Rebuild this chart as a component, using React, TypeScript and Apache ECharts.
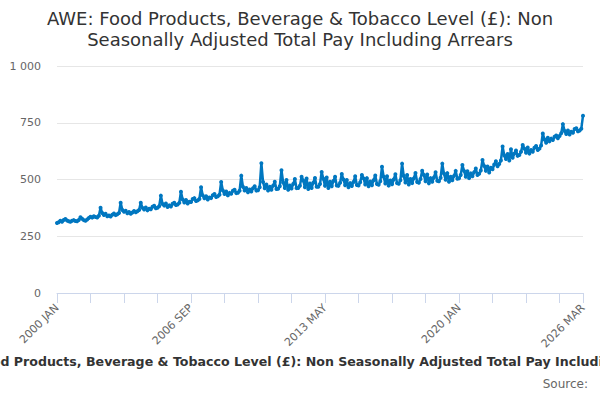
import React, { useEffect, useRef } from "react";
import * as echarts from "echarts";

const TITLE =
  "AWE: Food Products, Beverage & Tobacco Level (£): Non Seasonally Adjusted Total Pay Including Arrears";
const MONTHS = ["JAN", "FEB", "MAR", "APR", "MAY", "JUN", "JUL", "AUG", "SEP", "OCT", "NOV", "DEC"];
const START_YEAR = 2000;

const y2000 = [308, 312, 318, 314, 322, 326, 319, 316, 314, 318, 321, 317];
const y2001 = [316, 322, 334, 327, 321, 318, 324, 330, 336, 332, 338, 335];
const y2002 = [333, 340, 376, 352, 344, 349, 338, 341, 337, 345, 350, 343];
const y2003 = [347, 352, 398, 366, 358, 362, 351, 357, 349, 355, 361, 356];
const y2004 = [360, 366, 398, 375, 368, 377, 364, 371, 369, 380, 384, 373];
const y2005 = [376, 382, 429, 392, 385, 394, 379, 386, 381, 393, 398, 388];
const y2006 = [390, 397, 446, 412, 399, 410, 394, 402, 401, 414, 418, 405];
const y2007 = [408, 414, 466, 430, 417, 426, 412, 421, 418, 431, 436, 423];
const y2008 = [426, 433, 489, 452, 436, 447, 430, 441, 437, 450, 455, 440];
const y2009 = [442, 450, 517, 468, 452, 463, 444, 456, 447, 461, 470, 451];
const y2010 = [453, 466, 572, 489, 461, 478, 452, 468, 455, 473, 490, 458];
const y2011 = [459, 470, 541, 487, 463, 498, 455, 474, 460, 480, 502, 462];
const y2012 = [463, 472, 512, 496, 466, 504, 458, 482, 463, 486, 507, 468];
const y2013 = [468, 480, 533, 503, 472, 509, 463, 490, 470, 493, 512, 474];
const y2014 = [472, 486, 524, 500, 475, 498, 466, 484, 471, 489, 514, 476];
const y2015 = [474, 488, 520, 505, 478, 506, 470, 491, 475, 497, 518, 480];
const y2016 = [477, 492, 556, 512, 482, 514, 473, 496, 479, 500, 523, 484];
const y2017 = [481, 497, 570, 515, 487, 520, 478, 502, 484, 505, 529, 489];
const y2018 = [486, 502, 539, 520, 492, 522, 483, 506, 490, 509, 532, 494];
const y2019 = [492, 508, 570, 526, 499, 528, 490, 512, 497, 516, 538, 503];
const y2020 = [505, 520, 564, 538, 512, 536, 506, 527, 514, 532, 548, 520];
const y2021 = [525, 540, 586, 560, 538, 557, 531, 552, 545, 566, 580, 558];
const y2022 = [568, 584, 645, 606, 590, 612, 584, 633, 596, 614, 628, 604];
const y2023 = [608, 622, 652, 636, 618, 641, 614, 630, 622, 640, 648, 630];
const y2024 = [636, 650, 703, 676, 662, 684, 668, 680, 674, 688, 694, 682];
const y2025 = [692, 704, 744, 714, 700, 716, 698, 710, 706, 722, 726, 712];
const y2026 = [716, 724, 781];

const YEARS = [
  y2000, y2001, y2002, y2003, y2004, y2005, y2006, y2007, y2008, y2009,
  y2010, y2011, y2012, y2013, y2014, y2015, y2016, y2017, y2018, y2019,
  y2020, y2021, y2022, y2023, y2024, y2025, y2026,
];

const Y_TICKS = [0, 250, 500, 750, 1000];

export default function App() {
  const ref = useRef<HTMLDivElement>(null);

  useEffect(() => {
    document.body.style.margin = "0";
    if (!ref.current) return;
    const chart = echarts.init(ref.current, null, { renderer: "svg" });

    const categories: string[] = [];
    const values: number[] = [];
    YEARS.forEach((arr, yi) => {
      arr.forEach((v, mi) => {
        categories.push(`${START_YEAR + yi} ${MONTHS[mi]}`);
        values.push(v);
      });
    });
    const last = categories.length - 1;
    const font = "DejaVu Sans";

    chart.setOption({
      animation: false,
      textStyle: { fontFamily: font },
      title: {
        text: "AWE: Food Products, Beverage & Tobacco Level (£): Non\nSeasonally Adjusted Total Pay Including Arrears",
        left: "center",
        top: 3,
        textStyle: {
          fontFamily: font,
          fontSize: 18,
          fontWeight: "normal",
          color: "#333333",
          lineHeight: 21,
        },
      },
      grid: { left: 57, right: 17, top: 66, bottom: 107, containLabel: false },
      xAxis: {
        type: "category",
        data: categories,
        boundaryGap: false,
        axisLine: { lineStyle: { color: "#ccd6eb" } },
        axisTick: {
          show: true,
          length: 10,
          interval: (i: number) => i % 20 === 0 || i === last,
          lineStyle: { color: "#ccd6eb" },
        },
        axisLabel: {
          rotate: 45,
          interval: (i: number) => i % 80 === 0 || i === last,
          color: "#666666",
          fontSize: 11,
          fontFamily: font,
          margin: 13,
        },
        splitLine: { show: false },
      },
      yAxis: {
        type: "value",
        min: Y_TICKS[0],
        max: Y_TICKS[Y_TICKS.length - 1],
        interval: 250,
        axisLine: { show: false },
        axisTick: { show: false },
        axisLabel: {
          color: "#666666",
          fontSize: 11,
          fontFamily: font,
          margin: 16,
          formatter: (v: number) => (v >= 1000 ? v.toLocaleString("en-US").replace(",", " ") : String(v)),
        },
        splitLine: { lineStyle: { color: "#e6e6e6" } },
      },
      series: [
        {
          type: "line",
          data: values,
          showSymbol: true,
          showAllSymbol: true,
          symbol: "circle",
          symbolSize: 4,
          itemStyle: { color: "#0077c0", borderWidth: 0 },
          lineStyle: { color: "#0077c0", width: 2.5 },
        },
      ],
      graphic: [
        {
          type: "text",
          x: 306,
          y: 355,
          style: {
            text: TITLE,
            fill: "#333333",
            font: `bold 12.6px "${font}"`,
            textAlign: "center",
          },
        },
        {
          type: "text",
          right: 12,
          top: 378,
          style: {
            text: "Source:",
            fill: "#666666",
            font: `12px "${font}"`,
          },
        },
      ],
    });

    return () => chart.dispose();
  }, []);

  return <div ref={ref} style={{ width: 600, height: 400 }} />;
}
